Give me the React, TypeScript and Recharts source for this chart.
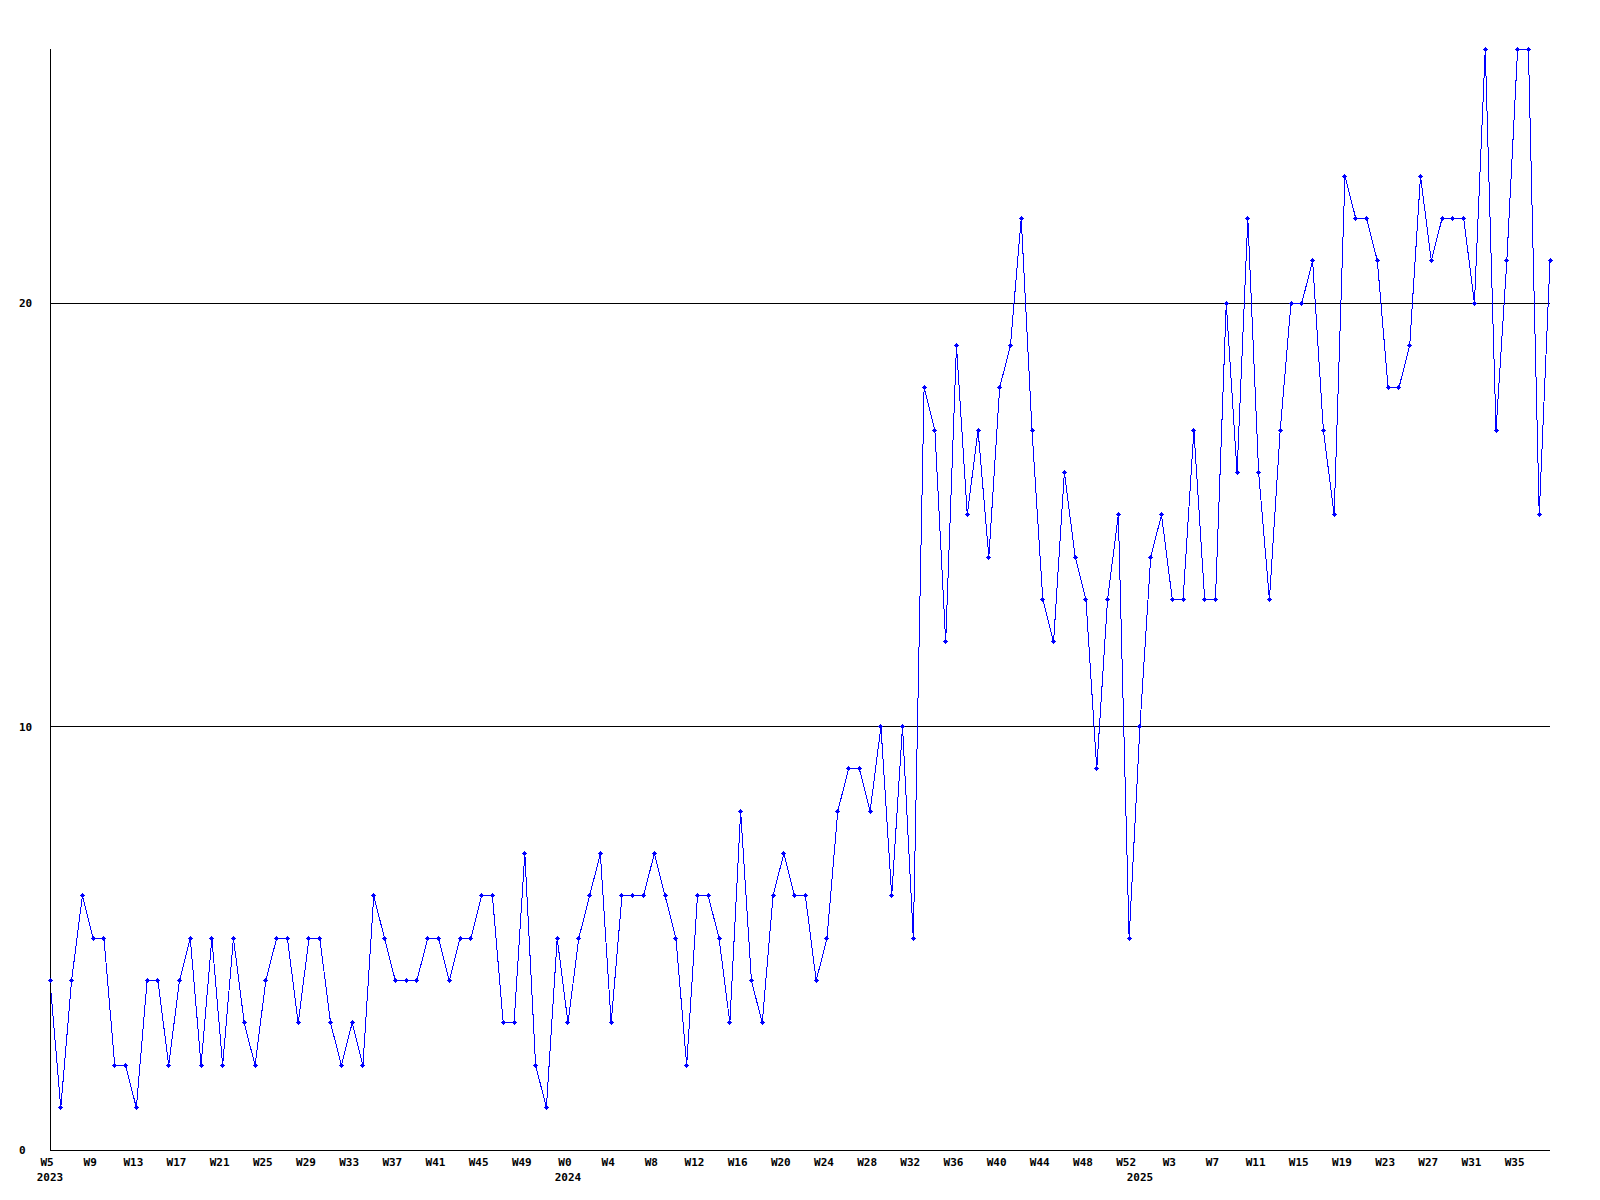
import { Line, LineChart, ReferenceLine, XAxis, YAxis } from 'recharts';

// weekly counts, W5 2023 .. W38 2025
const years = [2023, 2024, 2025];
const firstWeek = [5, 0, 0];
const lastWeek = [52, 52, 38];

const counts = [
  4, 1, 4, 6, 5, 5, 2, 2, 1, 4, 4, 2, 4, 5, 2, 5, 2, 5, 3, 2,
  4, 5, 5, 3, 5, 5, 3, 2, 3, 2, 6, 5, 4, 4, 4, 5, 5, 4, 5, 5,
  6, 6, 3, 3, 7, 2, 1, 5, 3, 5, 6, 7, 3, 6, 6, 6, 7, 6, 5, 2,
  6, 6, 5, 3, 8, 4, 3, 6, 7, 6, 6, 4, 5, 8, 9, 9, 8, 10, 6, 10,
  5, 18, 17, 12, 19, 15, 17, 14, 18, 19, 22, 17, 13, 12, 16, 14, 13, 9, 13, 15,
  5, 10, 14, 15, 13, 13, 17, 13, 13, 20, 16, 22, 16, 13, 17, 20, 20, 21, 17, 15,
  23, 22, 22, 21, 18, 18, 19, 23, 21, 22, 22, 22, 20, 26, 17, 21, 26, 26, 15, 21,
];

const yTicks = [0, 10, 20];
const gridValues = [10, 20];
const yMax = 26;
const labelEvery = 4;

const weeks = years.flatMap((year, i) =>
  Array.from({ length: lastWeek[i] - firstWeek[i] + 1 }, (_, k) => ({ year, week: firstWeek[i] + k })),
);

const data = weeks.map((w, i) => ({ key: `${w.year}-W${w.week}`, count: counts[i] }));
const indexByKey = new Map(data.map((d, i) => [d.key, i]));

const FONT = "'DejaVu Sans Mono', 'Liberation Mono', monospace";
const BLUE = '#0000ff';

function WeekTick({ x, y, payload }: any) {
  const i = indexByKey.get(payload.value) ?? -1;
  if (i < 0) return <g />;
  const w = weeks[i];
  const startsYear = i === 0 || weeks[i - 1].year !== w.year;
  return (
    <g>
      {i % labelEvery === 0 && (
        <text x={x - 3} y={y + 16} textAnchor="middle" fontFamily={FONT} fontWeight="bold" fontSize={11} fill="#000">
          W{w.week}
        </text>
      )}
      {startsYear && (
        <text x={x} y={y + 31} textAnchor="middle" fontFamily={FONT} fontWeight="bold" fontSize={11} fill="#000">
          {w.year}
        </text>
      )}
    </g>
  );
}

function ValueTick({ x, y, payload }: any) {
  return (
    <text x={x - 31} y={y + 4} textAnchor="start" fontFamily={FONT} fontWeight="bold" fontSize={11} fill="#000">
      {payload.value}
    </text>
  );
}

function PlusDot({ cx, cy }: any) {
  if (cx == null || cy == null) return <g />;
  return (
    <g fill={BLUE} shapeRendering="crispEdges">
      <rect x={cx - 2.5} y={cy - 0.5} width={5} height={1} />
      <rect x={cx - 0.5} y={cy - 2.5} width={1} height={5} />
      <rect x={cx - 1.5} y={cy - 1.5} width={3} height={3} />
    </g>
  );
}

export default function App() {
  return (
    <div style={{ position: 'absolute', left: 0, top: 0, width: 1600, height: 1200, background: '#fff' }}>
      <LineChart width={1600} height={1200} data={data} margin={{ top: 49, right: 50, left: 0, bottom: 0 }}>
        <XAxis
          dataKey="key"
          type="category"
          interval={0}
          height={50}
          tickLine={false}
          tickSize={0}
          tickMargin={0}
          axisLine={{ stroke: '#000', strokeWidth: 1, shapeRendering: 'crispEdges' }}
          tick={<WeekTick />}
        />
        <YAxis
          type="number"
          domain={[0, yMax]}
          ticks={yTicks}
          width={50}
          tickLine={false}
          tickSize={0}
          tickMargin={0}
          axisLine={{ stroke: '#000', strokeWidth: 1, shapeRendering: 'crispEdges' }}
          tick={<ValueTick />}
        />
        {gridValues.map((v) => (
          <ReferenceLine key={v} y={v} stroke="#000" strokeWidth={1} shapeRendering="crispEdges" />
        ))}
        <Line
          type="linear"
          dataKey="count"
          stroke={BLUE}
          strokeWidth={1}
          shapeRendering="crispEdges"
          dot={(props: any) => <PlusDot key={`dot-${props.index}`} {...props} />}
          activeDot={false}
          isAnimationActive={false}
        />
      </LineChart>
    </div>
  );
}
